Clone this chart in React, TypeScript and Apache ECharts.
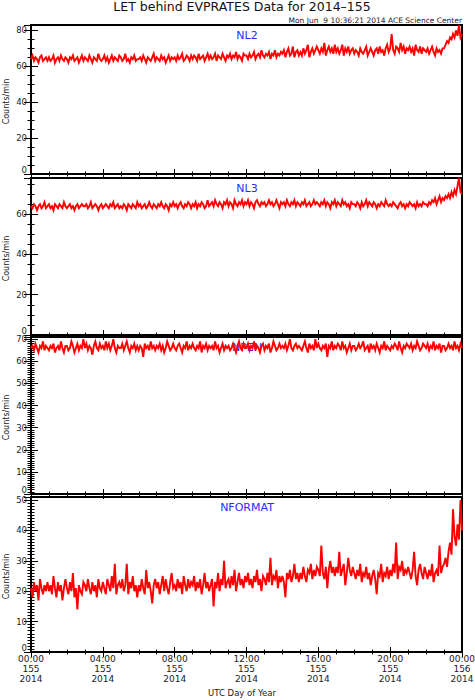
import React, { useEffect, useRef } from 'react';
import * as echarts from 'echarts';

// ---- Data (5-minute samples, counts/min) ----
const nl2Values = [
  64,66,63,65,64,62,65,66,63,64,65,63,
  65,63,64,66,62,64,65,63,66,64,63,65,
  64,62,65,64,66,63,64,65,62,64,66,63,
  65,64,63,66,64,62,65,64,63,67,64,63,
  64,66,63,65,62,64,66,63,65,64,63,66,
  65,63,64,67,63,64,62,65,64,66,63,64,
  64,65,63,66,64,62,65,64,63,65,67,63,
  65,64,63,66,64,65,62,64,66,63,65,64,
  65,63,66,64,65,67,63,64,66,65,63,66,
  64,66,65,63,67,64,65,66,63,65,67,64,
  66,64,65,67,63,66,65,64,67,65,63,66,
  65,67,64,66,65,68,64,66,65,63,67,66,
  66,64,67,65,66,68,64,66,67,65,69,66,
  65,67,66,68,64,67,66,69,65,67,66,68,
  67,69,65,68,70,66,67,71,65,68,69,66,
  68,66,70,67,69,72,65,68,70,67,69,71,
  69,67,70,68,73,66,69,71,68,70,67,72,
  68,70,67,69,72,66,70,68,71,67,69,70,
  67,69,68,66,70,68,67,69,71,66,68,70,
  68,66,69,70,67,71,68,69,66,70,72,68,
  70,78,69,67,71,70,68,73,69,71,67,70,
  69,71,68,70,66,72,69,68,71,67,70,69,
  68,70,67,69,71,68,66,70,68,69,67,70,
  70,72,74,73,76,75,78,76,80,77,83,76,
  78,
];

const nl3Values = [
  64,63,65,64,62,64,65,63,64,66,63,64,
  65,63,64,62,65,64,63,65,64,63,66,64,
  63,64,65,63,64,62,64,65,63,64,65,64,
  64,65,63,64,66,63,64,65,64,62,64,65,
  63,64,65,64,63,65,64,66,63,64,65,63,
  64,63,65,64,62,65,64,63,65,64,63,66,
  64,65,63,64,65,63,64,66,64,63,65,64,
  63,65,64,66,64,63,65,64,62,65,64,66,
  64,65,63,65,66,64,63,65,64,66,65,63,
  65,64,66,63,65,64,66,65,63,64,67,64,
  65,66,64,67,65,64,66,65,63,66,65,67,
  64,66,65,63,67,65,64,66,65,67,64,66,
  65,67,64,66,65,63,66,67,65,64,66,65,
  66,64,65,67,65,66,64,65,67,65,63,66,
  65,66,64,67,65,64,66,65,67,64,66,65,
  64,66,65,67,64,65,66,64,65,67,65,66,
  65,64,66,65,67,64,66,65,63,66,65,67,
  64,66,65,64,67,65,66,64,65,63,66,65,
  65,64,66,65,63,66,64,65,67,64,66,65,
  64,66,65,63,65,64,66,65,64,67,65,64,
  65,64,66,65,64,63,65,66,64,65,63,65,
  64,66,65,64,65,63,66,64,65,64,66,65,
  65,64,66,65,67,66,68,65,67,69,66,68,
  67,69,68,70,68,71,69,72,70,74,78,71,
  70,
];

const npenValues = [
  66,67,65,68,66,64,67,66,69,65,67,66,
  65,67,66,68,64,66,67,65,69,66,64,67,
  67,65,66,69,67,64,66,68,65,67,66,70,
  66,68,65,67,66,63,67,69,66,65,68,66,
  67,65,69,66,68,65,67,70,66,64,67,66,
  66,68,65,67,69,66,64,67,66,68,65,67,
  65,67,66,62,68,66,67,65,69,66,67,65,
  67,66,68,65,67,64,66,69,67,65,66,68,
  66,65,67,68,66,64,67,66,69,65,67,66,
  68,66,65,67,66,69,64,67,66,68,65,67,
  66,67,65,69,66,67,64,66,68,65,67,66,
  67,65,66,68,66,64,67,69,66,65,68,66,
  66,68,65,67,66,69,65,67,66,64,67,68,
  65,67,66,68,64,66,69,67,65,66,68,66,
  67,66,68,65,67,70,66,65,67,68,66,67,
  66,65,67,69,66,64,68,66,67,65,70,66,
  68,66,65,67,66,68,62,67,66,69,65,67,
  66,68,67,65,69,66,67,64,66,68,65,67,
  67,65,66,68,66,67,69,65,66,67,64,68,
  66,67,65,68,66,64,67,66,69,65,67,66,
  65,67,66,68,67,65,69,66,64,67,66,68,
  67,66,68,65,67,66,69,67,65,66,68,67,
  66,68,65,67,66,69,65,67,66,68,64,67,
  67,65,66,68,66,67,65,69,66,67,65,68,
  66,
];

const nformatValues = [
  21,18,23,20,22,17,24,21,19,22,20,23,
  20,22,19,25,21,18,23,20,22,17,21,24,
  21,19,23,20,26,18,21,14,22,20,19,23,
  22,20,24,21,19,23,20,22,18,24,21,20,
  23,21,19,24,22,20,25,21,29,19,22,23,
  21,24,20,22,29,19,23,21,25,20,22,18,
  22,20,24,21,19,27,21,23,20,16,22,24,
  21,23,19,22,25,20,24,21,19,23,26,21,
  22,20,24,21,23,19,25,22,20,24,21,23,
  22,25,20,23,21,24,19,22,26,21,23,20,
  22,24,15,23,21,26,20,24,22,30,21,23,
  24,21,25,22,27,20,23,26,22,24,21,25,
  23,26,22,24,21,25,23,27,22,24,20,25,
  24,22,26,23,31,22,25,24,27,21,25,23,
  25,23,18,26,24,27,23,25,29,24,26,23,
  26,24,28,25,23,27,26,29,24,27,25,28,
  27,25,35,26,24,28,21,27,30,26,28,25,
  28,26,33,25,27,29,22,26,31,27,25,28,
  26,24,27,25,29,23,26,25,28,24,26,22,
  25,27,24,19,26,25,29,23,26,25,28,24,
  27,25,29,26,36,24,28,27,30,25,27,26,
  28,26,24,27,33,25,22,27,29,26,24,28,
  26,24,27,25,29,23,26,27,25,35,26,28,
  29,31,28,33,36,32,47,38,35,42,37,50,
  40,
];

const seriesNames = ['NL2', 'NL3', 'NPEN', 'NFORMAT'];
const yMaxValues = [83, 78, 71, 51];
const yMajorSteps = [20, 20, 10, 10];
const yMinorSteps = [5, 5, 1, 1];

const xTickMinutes = [0, 240, 480, 720, 960, 1200, 1440];
const xHourLabels = ['00:00', '04:00', '08:00', '12:00', '16:00', '20:00', '00:00'];
const xDayLabels = ['155', '155', '155', '155', '155', '155', '156'];
const xYearLabels = ['2014', '2014', '2014', '2014', '2014', '2014', '2014'];

const titleText = 'LET behind EVPRATES Data for 2014\u2013155';
const subtitleText = 'Mon Jun  9 10:36:21 2014 ACE Science Center';
const yAxisTitle = 'Counts/min';
const xAxisTitle = 'UTC Day of Year';

const SAMPLE_MINUTES = 5;

// ---- layout ----
const panelTops = [25, 178, 337, 497];
const panelBottoms = [174, 335, 494, 652];
const PLOT_LEFT = 31;
const PLOT_RIGHT = 462;
const FONT = '"DejaVu Sans", "Liberation Sans", sans-serif';

export default function App() {
  const ref = useRef<HTMLDivElement>(null);

  useEffect(() => {
    const el = ref.current;
    if (!el) return;
    const chart = echarts.init(el, null, { renderer: 'svg' });
    const allValues = [nl2Values, nl3Values, npenValues, nformatValues];

    const grids: any[] = [];
    const xAxes: any[] = [];
    const yAxes: any[] = [];
    const series: any[] = [];
    const graphics: any[] = [];

    for (let i = 0; i < 4; i++) {
      grids.push({
        left: PLOT_LEFT,
        right: 475 - PLOT_RIGHT,
        top: panelTops[i],
        height: panelBottoms[i] - panelTops[i],
        containLabel: false,
        outerBoundsMode: 'none',
        show: true,
        borderColor: '#000',
        borderWidth: 2,
        backgroundColor: 'transparent',
      });
      const isLast = i === 3;
      const xCommon = {
        type: 'value',
        gridIndex: i,
        min: 0,
        max: 1440,
        interval: 240,
        axisLine: { show: false },
        splitLine: { show: false },
        axisTick: { show: true, inside: true, length: 5, lineStyle: { color: '#000', width: 1 } },
        minorTick: { show: true, splitNumber: 4, length: 2.5, lineStyle: { color: '#000', width: 1 } },
      };
      xAxes.push({
        ...xCommon,
        position: 'bottom',
        axisLabel: {
          show: isLast,
          margin: 2,
          fontFamily: FONT,
          fontSize: 9,
          lineHeight: 10,
          color: '#222',
          showMinLabel: true,
          showMaxLabel: true,
          hideOverlap: false,
          formatter: (v: number) => {
            const k = xTickMinutes.indexOf(v);
            if (k < 0) return '';
            return `${xHourLabels[k]}\n${xDayLabels[k]}\n${xYearLabels[k]}`;
          },
        },
      });
      xAxes.push({ ...xCommon, position: 'top', axisLabel: { show: false } });

      const step = yMajorSteps[i];
      const yCommon = {
        type: 'value',
        gridIndex: i,
        min: 0,
        max: yMaxValues[i],
        interval: step,
        axisLine: { show: false },
        splitLine: { show: false },
        axisTick: { show: true, inside: true, length: 7, lineStyle: { color: '#000', width: 1 } },
        minorTick: {
          show: true,
          splitNumber: step / yMinorSteps[i],
          length: 3.5,
          lineStyle: { color: '#000', width: 1 },
        },
      };
      yAxes.push({
        ...yCommon,
        position: 'left',
        axisLabel: {
          show: true,
          margin: 4,
          fontFamily: FONT,
          fontSize: 8.5,
          lineHeight: 7,
          color: '#222',
          showMaxLabel: false,
          formatter: (v: number) => {
            if (v % step !== 0) return '';
            return v === 0 ? '{zero|0}\n{gap|}' : String(v);
          },
          rich: {
            zero: { fontFamily: FONT, fontSize: 8.5, lineHeight: 7, color: '#222' },
            gap: { fontSize: 1, lineHeight: 9 },
          },
        },
      });
      yAxes.push({ ...yCommon, position: 'right', axisLabel: { show: false } });

      series.push({
        type: 'line',
        name: seriesNames[i],
        xAxisIndex: 2 * i,
        yAxisIndex: 2 * i,
        data: allValues[i].map((v, k) => [k * SAMPLE_MINUTES, v]),
        showSymbol: false,
        symbol: 'none',
        lineStyle: { color: '#ff0000', width: 1.9, join: 'miter' },
        itemStyle: { color: '#ff0000' },
        z: 3,
        silent: true,
      });

      graphics.push({
        type: 'text',
        x: 247,
        y: panelTops[i] + 10,
        z: 1,
        style: {
          text: seriesNames[i],
          fill: '#2a2aff',
          font: `11px ${FONT}`,
          textAlign: 'center',
          textVerticalAlign: 'middle',
        },
      });

      graphics.push({
        type: 'text',
        x: 6,
        y: (panelTops[i] + panelBottoms[i]) / 2 + 2,
        rotation: Math.PI / 2,
        style: {
          text: yAxisTitle,
          fill: '#222',
          font: `8px ${FONT}`,
          textAlign: 'center',
          textVerticalAlign: 'middle',
        },
      });
    }

    graphics.push({
      type: 'text',
      x: 242,
      y: 6.5,
      style: {
        text: titleText,
        fill: '#111',
        font: `12.5px ${FONT}`,
        textAlign: 'center',
        textVerticalAlign: 'middle',
      },
    });
    graphics.push({
      type: 'text',
      x: 462,
      y: 20,
      style: {
        text: subtitleText,
        fill: '#222',
        font: `7.5px ${FONT}`,
        textAlign: 'right',
        textVerticalAlign: 'middle',
      },
    });
    graphics.push({
      type: 'text',
      x: 242,
      y: 693,
      style: {
        text: xAxisTitle,
        fill: '#222',
        font: `8.5px ${FONT}`,
        textAlign: 'center',
        textVerticalAlign: 'middle',
      },
    });

    chart.setOption({
      animation: false,
      backgroundColor: '#fff',
      grid: grids,
      xAxis: xAxes,
      yAxis: yAxes,
      series,
      graphic: graphics,
    });

    return () => chart.dispose();
  }, []);

  return (
    <div
      ref={ref}
      style={{ position: 'fixed', left: 0, top: 0, width: 475, height: 700, background: '#fff' }}
    />
  );
}
